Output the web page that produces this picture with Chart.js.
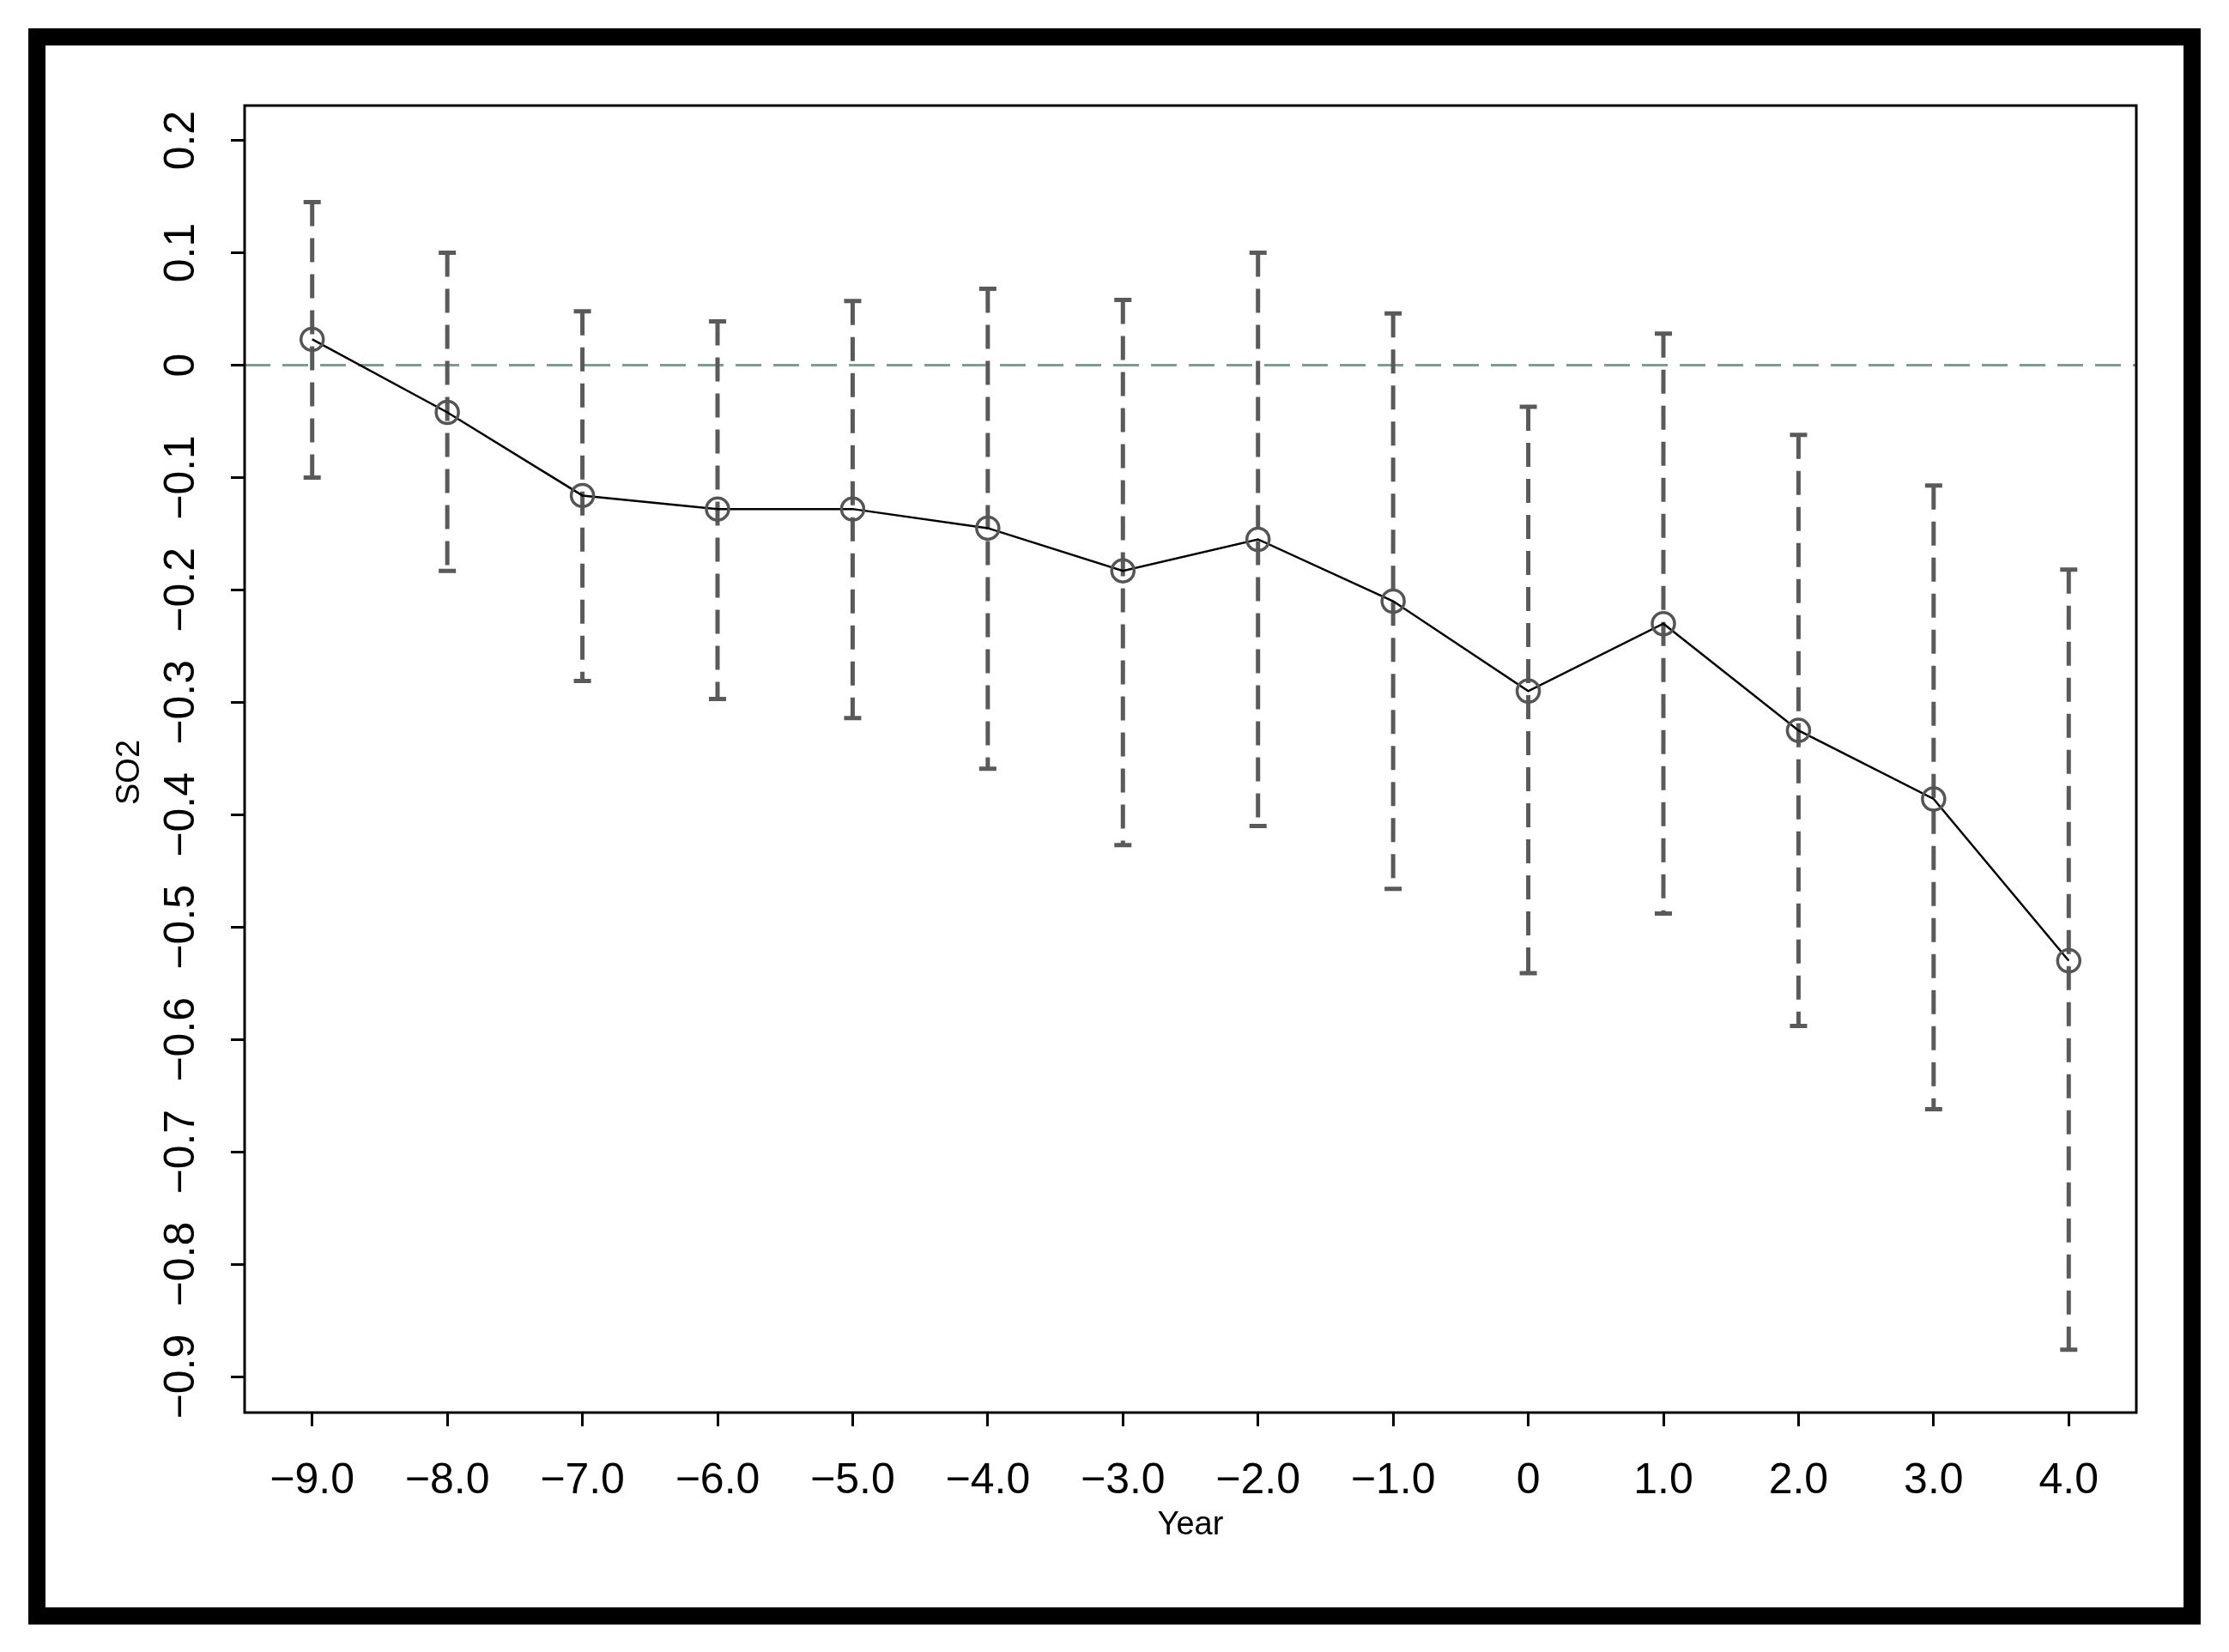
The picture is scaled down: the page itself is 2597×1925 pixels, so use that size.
<!DOCTYPE html>
<html>
<head>
<meta charset="utf-8">
<script src="https://cdn.jsdelivr.net/npm/chart.js@4"></script>
<style>
  html, body { margin: 0; padding: 0; background: #fff; }
  canvas { display: block; }
</style>
</head>
<body>
<canvas id="c" width="2597" height="1925"></canvas>
<script>
const years = [-9, -8, -7, -6, -5, -4, -3, -2, -1, 0, 1, 2, 3, 4];
const estimates = [0.023, -0.042, -0.116, -0.128, -0.128, -0.145, -0.183, -0.155, -0.210, -0.290, -0.230, -0.325, -0.386, -0.530];
const upper = [0.145, 0.100, 0.048, 0.039, 0.057, 0.068, 0.058, 0.100, 0.046, -0.037, 0.028, -0.062, -0.107, -0.182];
const lower = [-0.100, -0.183, -0.281, -0.297, -0.314, -0.359, -0.427, -0.410, -0.466, -0.541, -0.488, -0.588, -0.662, -0.876];
const yTicks = [0.2, 0.1, 0, -0.1, -0.2, -0.3, -0.4, -0.5, -0.6, -0.7, -0.8, -0.9];

const fmt = v => (v === 0 ? '0' : v.toFixed(1)).replace('-', '\u2212');

const extras = {
  id: 'extras',
  beforeDatasetsDraw(chart) {
    const { ctx, chartArea: a, scales: { x, y } } = chart;
    ctx.save();
    // zero reference line
    ctx.strokeStyle = '#7f9c93';
    ctx.lineWidth = 3;
    ctx.setLineDash([30, 14]);
    ctx.beginPath();
    ctx.moveTo(a.left, y.getPixelForValue(0));
    ctx.lineTo(a.right, y.getPixelForValue(0));
    ctx.stroke();
    // confidence intervals
    ctx.strokeStyle = '#5a5a5a';
    ctx.lineWidth = 5;
    years.forEach((yr, i) => {
      const px = x.getPixelForValue(yr);
      const top = y.getPixelForValue(upper[i]);
      const bot = y.getPixelForValue(lower[i]);
      ctx.setLineDash([28, 14]);
      ctx.beginPath();
      ctx.moveTo(px, top);
      ctx.lineTo(px, bot);
      ctx.stroke();
      ctx.setLineDash([]);
      ctx.beginPath();
      ctx.moveTo(px - 10, top); ctx.lineTo(px + 10, top);
      ctx.moveTo(px - 10, bot); ctx.lineTo(px + 10, bot);
      ctx.stroke();
    });
    ctx.restore();
  },
  afterDraw(chart) {
    const { ctx, chartArea: a, scales: { x, y } } = chart;
    ctx.save();
    ctx.setLineDash([]);
    ctx.strokeStyle = '#000';
    ctx.lineWidth = 3;
    ctx.strokeRect(a.left, a.top, a.right - a.left, a.bottom - a.top);
    // outer frame
    ctx.lineWidth = 20;
    ctx.strokeRect(43, 43, 2511, 1840);
    ctx.fillStyle = '#000';
    ctx.font = '50px "Liberation Sans", Arial, sans-serif';
    ctx.textAlign = 'center';
    ctx.textBaseline = 'middle';
    years.forEach(yr => {
      ctx.fillText(fmt(yr), x.getPixelForValue(yr), 1726);
    });
    yTicks.forEach(v => {
      ctx.save();
      ctx.translate(212, y.getPixelForValue(v));
      ctx.rotate(-Math.PI / 2);
      ctx.fillText(fmt(v), 0, 0);
      ctx.restore();
    });
    ctx.font = '38px "Liberation Sans", Arial, sans-serif';
    ctx.fillText('Year', (a.left + a.right) / 2, 1778);
    ctx.save();
    ctx.translate(152, 900);
    ctx.rotate(-Math.PI / 2);
    ctx.fillText('SO2', 0, 0);
    ctx.restore();
    ctx.restore();
  }
};

new Chart(document.getElementById('c'), {
  type: 'line',
  data: {
    datasets: [{
      data: years.map((yr, i) => ({ x: yr, y: estimates[i] })),
      borderColor: '#000',
      borderWidth: 2.5,
      tension: 0,
      pointRadius: 13,
      pointBorderWidth: 3.5,
      pointBorderColor: '#555',
      pointBackgroundColor: 'rgba(0,0,0,0)'
    }]
  },
  options: {
    responsive: false,
    animation: false,
    events: [],
    layout: { padding: { left: 269, right: 108, top: 123, bottom: 263 } },
    plugins: { legend: { display: false }, tooltip: { enabled: false } },
    scales: {
      x: {
        type: 'linear', min: -9.5, max: 4.5,
        afterBuildTicks: s => { s.ticks = years.map(v => ({ value: v })); },
        afterFit: s => { s.height = 16; },
        ticks: { display: false },
        border: { display: false },
        grid: { drawOnChartArea: false, tickLength: 16, color: '#000', lineWidth: 3 }
      },
      y: {
        type: 'linear', min: -0.932, max: 0.231,
        afterBuildTicks: s => { s.ticks = yTicks.map(v => ({ value: v })); },
        afterFit: s => { s.width = 16; },
        ticks: { display: false },
        border: { display: false },
        grid: { drawOnChartArea: false, tickLength: 16, color: '#000', lineWidth: 3 }
      }
    }
  },
  plugins: [extras]
});
</script>
</body>
</html>
